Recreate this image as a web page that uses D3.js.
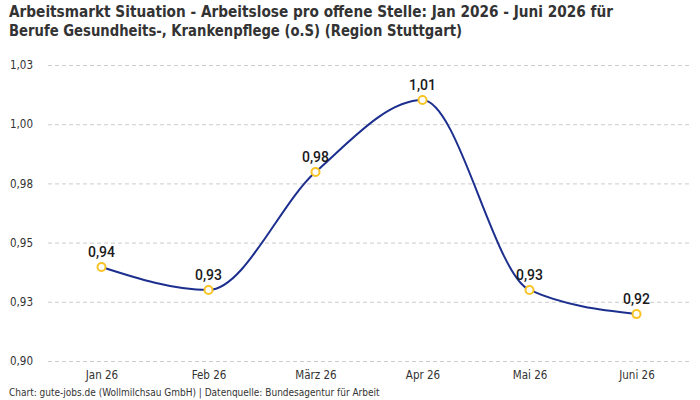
<!DOCTYPE html>
<html>
<head>
<meta charset="utf-8">
<script src="https://cdn.jsdelivr.net/npm/d3@7"></script>
<style>
  body { margin: 0; background: #fff; }
  svg { display: block; }
  .title { font-family: "DejaVu Sans", sans-serif; font-stretch: condensed; font-weight: bold; font-size: 16.5px; fill: #333; }
  .tick text { font-family: "DejaVu Sans", sans-serif; font-stretch: condensed; font-size: 11.5px; fill: #333; }
  .foot { font-family: "DejaVu Sans", sans-serif; font-stretch: condensed; font-size: 10px; fill: #333; }
  .lbl { font-family: Roboto, sans-serif; font-weight: 500; font-size: 14px; fill: #1a1a1a; }
</style>
</head>
<body>
<svg width="700" height="400"></svg>
<script>
// Arbeitslose pro offene Stelle, Region Stuttgart
var months = ["Jan 26", "Feb 26", "März 26", "Apr 26", "Mai 26", "Juni 26"],
    values = [0.94, 0.93, 0.98, 1.01, 0.93, 0.92],
    yTicks = [0.9, 0.925, 0.95, 0.975, 1.0, 1.025];

// positions actually plotted (a bit more precise than the labels)
var plotted = [0.9397, 0.9300, 0.9798, 1.0102, 0.9300, 0.9198];

var width = 700, height = 400,
    m = {top: 65, right: 10, bottom: 39, left: 48};

var svg = d3.select("svg");
// round half up, german decimal comma
var fmt = function(v) { return (Math.round(v * 100 + 1e-6) / 100).toFixed(2).replace(".", ","); };

svg.append("text").attr("class", "title").attr("x", 9).attr("y", 17)
  .attr("textLength", 604).attr("lengthAdjust", "spacingAndGlyphs")
  .text("Arbeitsmarkt Situation - Arbeitslose pro offene Stelle: Jan 2026 - Juni 2026 für");
svg.append("text").attr("class", "title").attr("x", 9).attr("y", 36)
  .attr("textLength", 453).attr("lengthAdjust", "spacingAndGlyphs")
  .text("Berufe Gesundheits-, Krankenpflege (o.S) (Region Stuttgart)");

var x = d3.scalePoint().domain(months).range([m.left, width - m.right]).padding(0.5);
var y = d3.scaleLinear().domain([0.9, 1.025]).range([height - m.bottom, m.top]);

// grid + y labels
var ya = svg.append("g")
  .attr("transform", `translate(${m.left},0)`)
  .call(d3.axisLeft(y).tickValues(yTicks).tickSize(-(width - m.left - m.right)).tickPadding(15).tickFormat(fmt));
ya.select(".domain").remove();
ya.selectAll(".tick line").attr("stroke", "#ccc").attr("stroke-dasharray", "4,3");

// x labels
var xa = svg.append("g")
  .attr("transform", `translate(0,${height - m.bottom})`)
  .call(d3.axisBottom(x).tickSize(0).tickPadding(10));
xa.select(".domain").remove();

var line = d3.line()
  .x(function(d, i) { return x(months[i]); })
  .y(function(d) { return y(d); })
  .curve(d3.curveMonotoneX);

svg.append("path").datum(plotted)
  .attr("d", line)
  .attr("fill", "none")
  .attr("stroke", "#1c2f8e")
  .attr("stroke-width", 2);

svg.selectAll(".pt").data(plotted).enter().append("circle")
  .attr("cx", function(d, i) { return x(months[i]); })
  .attr("cy", function(d) { return y(d); })
  .attr("r", 4)
  .attr("fill", "#fff")
  .attr("stroke", "#f7c325")
  .attr("stroke-width", 2);

svg.selectAll(".lbl").data(values).enter().append("text")
  .attr("class", "lbl")
  .attr("text-anchor", "middle")
  .attr("x", function(d, i) { return x(months[i]); })
  .attr("y", function(d, i) { return y(plotted[i]) - 10; })
  .text(fmt);

svg.append("text").attr("class", "foot").attr("x", 9).attr("y", 396)
  .text("Chart: gute-jobs.de (Wollmilchsau GmbH) | Datenquelle: Bundesagentur für Arbeit");
</script>
</body>
</html>
